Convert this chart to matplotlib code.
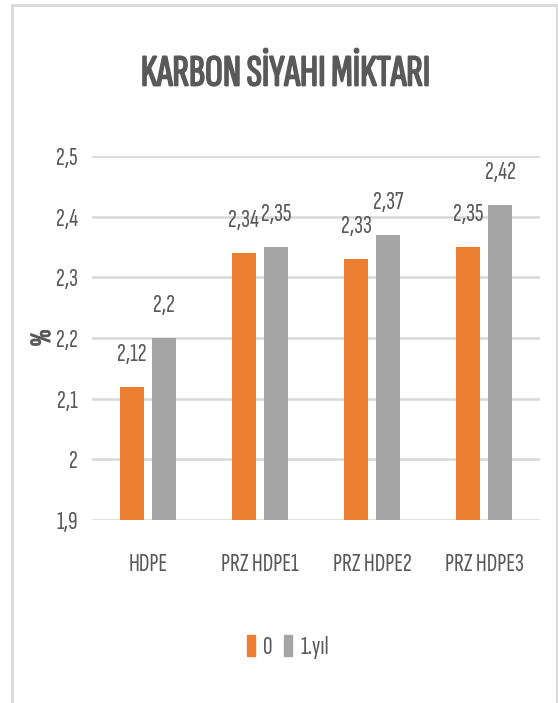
import matplotlib
matplotlib.use("Agg")
import matplotlib.pyplot as plt
import matplotlib.patheffects as pe
from matplotlib.patches import Patch, Rectangle
import numpy as np

plt.rcParams["font.family"] = ["Sofia Sans Extra Condensed", "DejaVu Sans"]

categories = ["HDPE", "PRZ HDPE1", "PRZ HDPE2", "PRZ HDPE3"]
values_0 = [2.12, 2.34, 2.33, 2.35]
values_1yil = [2.20, 2.35, 2.37, 2.42]
series_names = ["0", "1.yıl"]
y_ticks = [1.9, 2.0, 2.1, 2.2, 2.3, 2.4, 2.5]

ORANGE = "#ED7D31"
GRAY = "#A5A5A5"
TEXT = "#595959"
GRID = "#D9D9D9"

W, H = 558, 703
fig = plt.figure(figsize=(W / 100, H / 100), dpi=100)

# chart border
fig.add_artist(Rectangle((11.5 / W, -0.05), 545 / W, 1.05 - 5 / H,
                         transform=fig.transFigure, fill=False,
                         edgecolor=GRID, linewidth=2))

ax = fig.add_axes([92 / W, 1 - 520 / H, 448 / W, 364 / H])

x = np.arange(len(categories))
width = 0.22
off = 0.143
b0 = ax.bar(x - off, values_0, width, color=ORANGE, label=series_names[0])
b1 = ax.bar(x + off, values_1yil, width, color=GRAY, label=series_names[1])

def fmt(v):
    return f"{v:g}".replace(".", ",")

for bars, vals in ((b0, values_0), (b1, values_1yil)):
    ax.bar_label(bars, labels=[fmt(v) for v in vals], padding=15,
                 fontsize=19, color=TEXT)

ax.set_xlim(-0.5, len(categories) - 0.5)
ax.set_ylim(1.9, 2.5)
ax.set_yticks(y_ticks)
ax.set_yticklabels([fmt(v) for v in y_ticks])
ax.set_xticks(x)
ax.set_xticklabels(categories)
ax.tick_params(axis="y", length=0, pad=10, labelsize=19, labelcolor=TEXT)
ax.tick_params(axis="x", length=0, pad=24, labelsize=19, labelcolor=TEXT)

ax.grid(axis="y", color=GRID, linewidth=1.9)
ax.set_axisbelow(True)
for s in ax.spines.values():
    s.set_visible(False)

# the variable font only has its default weight, so bold is faked with an outline
fig.text(43 / W, 1 - 338 / H, "%", rotation=90, fontsize=21, color=TEXT,
         ha="center", va="center",
         path_effects=[pe.withStroke(linewidth=0.9, foreground=TEXT)])
fig.text(285 / W, 1 - 74 / H, "KARBON SİYAHI MİKTARI", fontsize=32,
         color=TEXT, ha="center", va="center",
         path_effects=[pe.withStroke(linewidth=1.3, foreground=TEXT)])

handles = [Patch(color=ORANGE), Patch(color=GRAY)]
fig.legend(handles, series_names, loc="center",
           bbox_to_anchor=(288 / W, 1 - 647 / H),
           ncol=2, frameon=False, fontsize=19, labelcolor=TEXT,
           handlelength=0.3, handleheight=0.85, handletextpad=0.3,
           columnspacing=0.45)

fig.savefig("out.png", dpi=100)
